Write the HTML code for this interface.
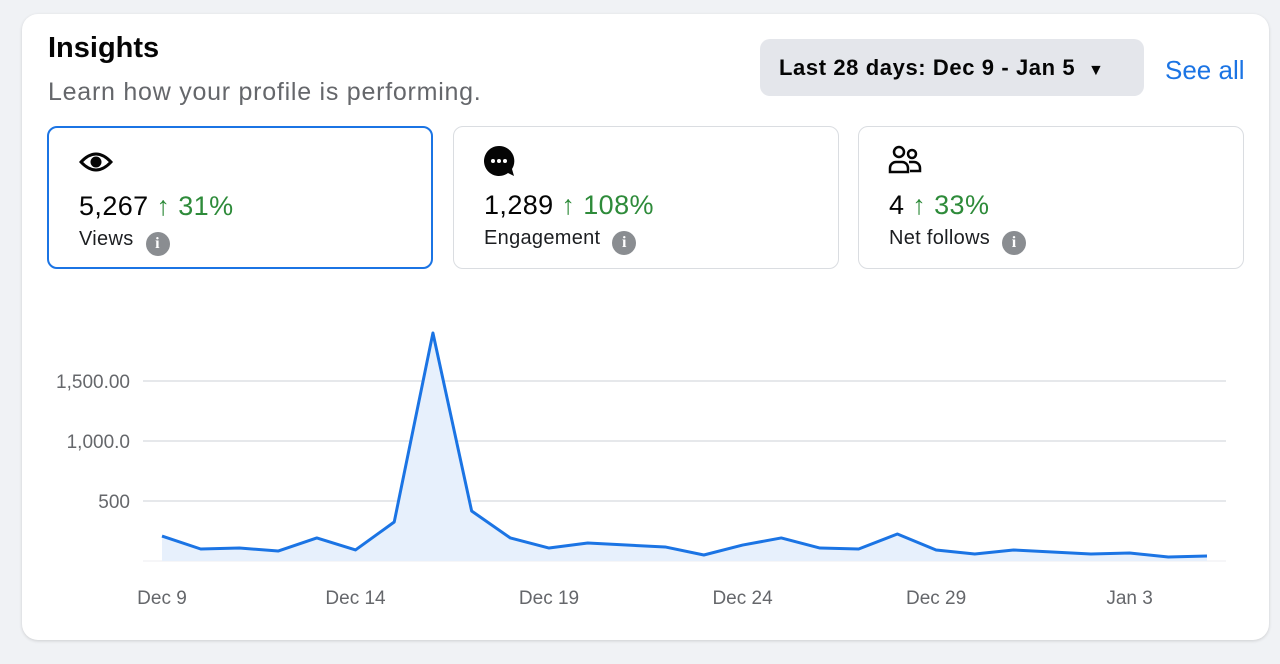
<!DOCTYPE html>
<html><head><meta charset="utf-8"><style>
body{margin:0;width:1280px;height:664px;background:#f0f2f5;font-family:"Liberation Sans",sans-serif;position:relative;overflow:hidden}
.card{position:absolute;left:22px;top:14px;width:1247px;height:626px;background:#fff;border-radius:16px;box-shadow:0 1px 3px rgba(0,0,0,.15)}
.abs{position:absolute}
.mc{position:absolute;top:126px;width:386px;height:143px;border:1px solid #dadde1;border-radius:10px;box-sizing:border-box;background:#fff}
.mc.sel{border:2px solid #1b74e4}
.num{position:absolute;left:30px;top:63px;font-size:27px;color:#050505;letter-spacing:0.4px}
.num span{color:#2e8b3a}
.lab{position:absolute;left:30px;top:100px;font-size:20px;color:#1c1e21;letter-spacing:0.3px}
.info{display:inline-block;width:24px;height:24px;border-radius:12px;background:#8a8d91;color:#fff;font-size:16px;font-weight:bold;text-align:center;line-height:24px;vertical-align:-3px;margin-left:12px;font-family:"Liberation Serif",serif}
</style></head><body>
<div class="card"></div>
<div class="abs" style="left:48px;top:32px;font-size:29px;font-weight:bold;color:#050505">Insights</div>
<div class="abs" style="left:48px;top:78px;font-size:25px;color:#65676b;letter-spacing:0.75px">Learn how your profile is performing.</div>
<div class="abs" style="left:760px;top:39px;width:384px;height:57px;background:#e4e6eb;border-radius:10px;font-size:22px;font-weight:bold;color:#050505;line-height:57px;box-sizing:border-box;padding-left:19px;letter-spacing:0.6px">Last 28 days: Dec 9 - Jan 5 <span style="font-size:16px;margin-left:6px">▼</span></div>
<div class="abs" style="left:1165px;top:55px;font-size:26px;color:#1b74e4">See all</div>

<div class="mc sel" style="left:47px">
<svg class="abs" style="left:30px;top:22px" width="34" height="24" viewBox="0 0 34 24"><path d="M2 12 Q17 -4 32 12 Q17 28 2 12Z" fill="none" stroke="#050505" stroke-width="3"/><circle cx="17" cy="12" r="5.5" fill="#050505"/></svg>
<div class="num">5,267 <span>↑ 31%</span></div>
<div class="lab">Views<span class="info">i</span></div>
</div>
<div class="mc" style="left:453px">
<svg class="abs" style="left:29px;top:17px" width="34" height="34" viewBox="0 0 34 34"><path d="M16 2a15 15 0 1 0 9 27l6 3-2-7A15 15 0 0 0 16 2z" fill="#050505"/><circle cx="10" cy="17" r="2" fill="#fff"/><circle cx="16" cy="17" r="2" fill="#fff"/><circle cx="22" cy="17" r="2" fill="#fff"/></svg>
<div class="num">1,289 <span>↑ 108%</span></div>
<div class="lab">Engagement<span class="info">i</span></div>
</div>
<div class="mc" style="left:858px">
<svg class="abs" style="left:29px;top:17px" width="34" height="32" viewBox="0 0 34 32"><g fill="none" stroke="#050505" stroke-width="2.5"><circle cx="11" cy="8" r="5"/><circle cx="24" cy="10" r="4"/><path d="M2 28v-4a6 6 0 0 1 6-6h6a6 6 0 0 1 6 6v4z"/><path d="M21 18h5a6 6 0 0 1 6 6v3h-10"/></g></svg>
<div class="num">4 <span>↑ 33%</span></div>
<div class="lab">Net follows<span class="info">i</span></div>
</div>

<svg class="abs" style="left:0;top:0" width="1280" height="664" id="chart"></svg>
<script>
const categories=["Dec 9","Dec 10","Dec 11","Dec 12","Dec 13","Dec 14","Dec 15","Dec 16","Dec 17","Dec 18","Dec 19","Dec 20","Dec 21","Dec 22","Dec 23","Dec 24","Dec 25","Dec 26","Dec 27","Dec 28","Dec 29","Dec 30","Dec 31","Jan 1","Jan 2","Jan 3","Jan 4","Jan 5"];
const views=[208,100,108,83,192,92,325,1900,417,192,108,150,133,117,50,133,192,108,100,225,92,58,92,75,58,67,33,42];
const yTicks=[500,1000,1500];
const yTickLabels=["500","1,000.0","1,500.00"];
const xTickLabels=["Dec 9","Dec 14","Dec 19","Dec 24","Dec 29","Jan 3"];
const svg=document.getElementById('chart');const NS='http://www.w3.org/2000/svg';
const x=i=>162+i*(1207-162)/27;
const y=v=>561-v*0.12;
function mk(t,a){const e=document.createElementNS(NS,t);for(const k in a)e.setAttribute(k,a[k]);svg.appendChild(e);return e;}
yTicks.forEach((t,i)=>{
 const g=mk('line',{x1:143,x2:1226,y1:y(t),y2:y(t),stroke:'#d8dadf','stroke-width':1.3});
 
 
 const l=mk('text',{x:130,y:y(t)+7,'text-anchor':'end','font-size':19,fill:'#65676b','font-family':'Liberation Sans, sans-serif'});
 l.textContent=yTickLabels[i];
 
 
});
const base=mk('line',{x1:143,x2:1226,y1:y(0),y2:y(0),stroke:'#eceef1','stroke-width':1});


let d=views.map((v,i)=>(i?'L':'M')+x(i)+' '+y(v)).join(' ');
const area=mk('path',{d:d+` L${x(views.length-1)} ${y(0)} L${x(0)} ${y(0)} Z`,fill:'#e7f0fc'});


const line=mk('path',{d:d,fill:'none',stroke:'#1b74e4','stroke-width':3,'stroke-linejoin':'round'});


xTickLabels.forEach(lab=>{
 const i=categories.indexOf(lab);
 const t=mk('text',{x:x(i),y:604,'text-anchor':'middle','font-size':19,fill:'#65676b','font-family':'Liberation Sans, sans-serif'});
 t.textContent=lab;
 
 
});
</script>
</body></html>
